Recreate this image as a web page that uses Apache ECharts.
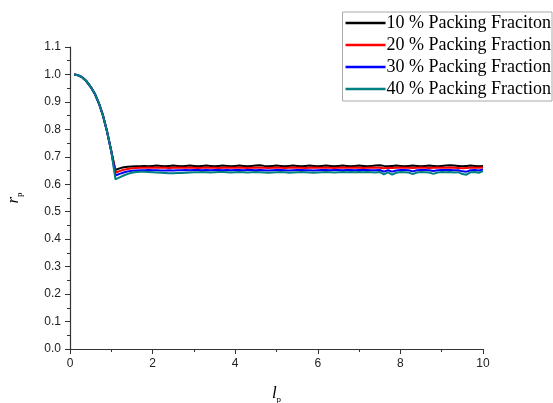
<!DOCTYPE html>
<html>
<head>
<meta charset="utf-8">
<script src="https://cdn.jsdelivr.net/npm/echarts@6/dist/echarts.min.js"></script>
<style>html,body{margin:0;padding:0;background:#fff}#c{width:553px;height:403px}</style>
</head>
<body>
<div id="c"></div>
<script>
var seriesNames = ['10 % Packing Fraciton', '20 % Packing Fraction', '30 % Packing Fraction', '40 % Packing Fraction'];
var xValues = [0.1,0.2,0.3,0.4,0.5,0.6,0.7,0.8,0.9,1.0,
  1.1,1.2,1.3,1.4,1.5,1.6,1.7,1.8,1.9,2.0,
  2.1,2.2,2.3,2.4,2.5,2.6,2.7,2.8,2.9,3.0,
  3.1,3.2,3.3,3.4,3.5,3.6,3.7,3.8,3.9,4.0,
  4.1,4.2,4.3,4.4,4.5,4.6,4.7,4.8,4.9,5.0,
  5.1,5.2,5.3,5.4,5.5,5.6,5.7,5.8,5.9,6.0,
  6.1,6.2,6.3,6.4,6.5,6.6,6.7,6.8,6.9,7.0,
  7.1,7.2,7.3,7.4,7.5,7.6,7.7,7.8,7.9,8.0,
  8.1,8.2,8.3,8.4,8.5,8.6,8.7,8.8,8.9,9.0,
  9.1,9.2,9.3,9.4,9.5,9.6,9.7,9.8,9.9,10.0];
var pf10 = [1.0,0.997,0.989,0.975,0.955,0.93,0.895,0.85,0.79,0.72,
  0.652,0.658,0.662,0.664,0.665,0.666,0.666,0.667,0.666,0.667,
  0.668,0.667,0.666,0.667,0.668,0.667,0.666,0.667,0.668,0.667,
  0.666,0.667,0.668,0.667,0.666,0.667,0.668,0.667,0.666,0.667,
  0.668,0.667,0.666,0.667,0.668,0.669,0.667,0.666,0.667,0.668,
  0.667,0.666,0.667,0.668,0.667,0.666,0.667,0.668,0.667,0.666,
  0.667,0.668,0.667,0.666,0.667,0.668,0.667,0.666,0.667,0.668,
  0.667,0.666,0.667,0.668,0.669,0.667,0.666,0.667,0.668,0.667,
  0.666,0.667,0.668,0.667,0.666,0.667,0.668,0.667,0.666,0.667,
  0.668,0.669,0.668,0.667,0.666,0.667,0.668,0.667,0.666,0.667];
var pf20 = [1.0,0.997,0.989,0.975,0.955,0.93,0.895,0.85,0.79,0.72,
  0.642,0.648,0.653,0.656,0.658,0.659,0.660,0.660,0.661,0.660,
  0.660,0.661,0.660,0.659,0.660,0.661,0.660,0.660,0.661,0.660,
  0.659,0.660,0.661,0.660,0.660,0.659,0.660,0.661,0.660,0.660,
  0.661,0.660,0.659,0.660,0.661,0.660,0.660,0.659,0.660,0.661,
  0.660,0.659,0.660,0.661,0.660,0.660,0.659,0.660,0.661,0.660,
  0.660,0.661,0.660,0.659,0.660,0.661,0.660,0.660,0.661,0.660,
  0.659,0.660,0.661,0.660,0.660,0.658,0.660,0.659,0.660,0.661,
  0.660,0.660,0.659,0.660,0.661,0.660,0.659,0.660,0.661,0.660,
  0.660,0.661,0.660,0.659,0.658,0.659,0.660,0.661,0.660,0.661];
var pf30 = [1.0,0.997,0.989,0.975,0.955,0.93,0.895,0.85,0.79,0.72,
  0.632,0.638,0.643,0.647,0.649,0.650,0.651,0.651,0.652,0.651,
  0.651,0.650,0.650,0.651,0.650,0.651,0.651,0.652,0.651,0.652,
  0.652,0.651,0.652,0.651,0.652,0.652,0.651,0.652,0.651,0.652,
  0.652,0.651,0.652,0.652,0.651,0.652,0.651,0.650,0.651,0.652,
  0.652,0.651,0.650,0.651,0.652,0.652,0.651,0.651,0.650,0.651,
  0.652,0.652,0.651,0.652,0.652,0.651,0.652,0.652,0.651,0.652,
  0.652,0.652,0.651,0.651,0.652,0.646,0.651,0.646,0.650,0.652,
  0.652,0.651,0.647,0.651,0.652,0.652,0.651,0.648,0.651,0.652,
  0.652,0.652,0.651,0.651,0.647,0.646,0.651,0.652,0.650,0.654];
var pf40 = [1.0,0.997,0.989,0.975,0.955,0.93,0.895,0.85,0.79,0.72,
  0.618,0.625,0.632,0.638,0.642,0.645,0.646,0.646,0.645,0.644,
  0.643,0.642,0.641,0.640,0.640,0.641,0.641,0.642,0.643,0.644,
  0.644,0.645,0.644,0.643,0.644,0.645,0.645,0.644,0.643,0.644,
  0.645,0.644,0.643,0.644,0.645,0.644,0.643,0.642,0.643,0.644,
  0.645,0.644,0.642,0.643,0.644,0.645,0.644,0.643,0.642,0.643,
  0.644,0.645,0.644,0.643,0.644,0.645,0.644,0.645,0.644,0.645,
  0.644,0.645,0.644,0.643,0.645,0.636,0.643,0.635,0.642,0.645,
  0.644,0.643,0.637,0.643,0.645,0.644,0.643,0.638,0.643,0.645,
  0.644,0.645,0.643,0.644,0.637,0.635,0.644,0.645,0.642,0.648];
var seriesValues = [pf10, pf20, pf30, pf40];
var seriesColors = ['#000000', '#ff0000', '#0000ff', '#008080'];

function pairs(ys) { return xValues.map(function (x, i) { return [x, ys[i]]; }); }

var chart = echarts.init(document.getElementById('c'), null, { renderer: 'canvas' });
var axisCommon = {
  axisLine: { show: true, onZero: false, lineStyle: { color: '#333', width: 1.2 } },
  axisTick: { show: true, inside: false, length: 5, lineStyle: { color: '#333' } },
  minorTick: { show: true, splitNumber: 2, length: 3, lineStyle: { color: '#333' } },
  splitLine: { show: false },
  axisLabel: { color: '#222', fontSize: 12, margin: 9, fontFamily: 'Liberation Sans, Arial, sans-serif' }
};
chart.setOption({
  animation: false,
  backgroundColor: '#fff',
  grid: { left: 70, right: 70, top: 47, bottom: 54, containLabel: false, outerBoundsMode: 'none' },
  legend: {
    data: seriesNames,
    orient: 'vertical',
    right: 1, top: 12,
    icon: 'rect',
    itemWidth: 40, itemHeight: 2.5, itemGap: 4,
    padding: [2, 1, 3, 3],
    borderColor: '#aaa', borderWidth: 1,
    textStyle: { fontFamily: 'Liberation Serif, Times New Roman, serif', fontSize: 18, lineHeight: 17, color: '#000', padding: [0, 0, 0, -4] }
  },
  xAxis: Object.assign({}, axisCommon, {
    type: 'value', min: 0, max: 10, interval: 2,
    name: '{i|l}{s|p}', nameLocation: 'middle', nameGap: 34,
    nameTextStyle: { rich: {
      i: { fontFamily: 'Liberation Serif, serif', fontStyle: 'italic', fontSize: 17, color: '#000' },
      s: { fontFamily: 'Liberation Serif, serif', fontSize: 9, color: '#000', padding: [12, 0, 0, 0] }
    } }
  }),
  yAxis: Object.assign({}, axisCommon, {
    type: 'value', min: 0, max: 1.1, interval: 0.1,
    axisLabel: Object.assign({}, axisCommon.axisLabel, { formatter: function (v) { return v.toFixed(1); } }),
    name: '{i|r}{s|p}', nameLocation: 'middle', nameGap: 46, nameRotate: 90,
    nameTextStyle: { rich: {
      i: { fontFamily: 'Liberation Serif, serif', fontStyle: 'italic', fontSize: 17, color: '#000' },
      s: { fontFamily: 'Liberation Serif, serif', fontSize: 9, color: '#000', padding: [12, 0, 0, 0] }
    } }
  }),
  series: seriesNames.map(function (n, k) {
    return {
      name: n, type: 'line', data: pairs(seriesValues[k]),
      showSymbol: false, symbol: 'none',
      lineStyle: { color: seriesColors[k], width: 2 },
      itemStyle: { color: seriesColors[k] }
    };
  })
});
</script>
</body>
</html>
